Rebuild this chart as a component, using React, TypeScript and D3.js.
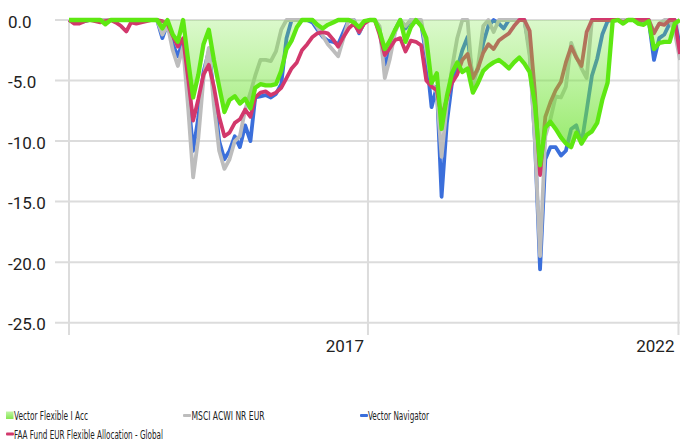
import React from 'react';
import * as d3 from 'd3';

// Monthly observations, March 2012 -> January 2022 (drawdown, %)
const START = new Date(Date.UTC(2012, 2, 10));
const N_MONTHS = 119;
const dates: Date[] = d3.range(N_MONTHS).map((i) => d3.utcMonth.offset(START, i));

const flexible: number[] = [
  0, 0, 0, 0, 0, 0, 0, -0.35, 0, 0,
  0, 0, 0, 0, 0, 0, 0, 0, -0.7, 0,
  -1.2, -1.8, 0, -3.5, -6.4, -4.5, -2.0, -0.8, -3.3, -5.5,
  -7.6, -6.6, -6.3, -6.9, -6.5, -7.3, -5.6, -5.3, -5.4, -5.4,
  -5.3, -4.2, -2.4, -1.7, -0.6, 0, 0, 0, -0.4, -0.7,
  -0.4, -0.2, 0, 0, 0, -0.2, -0.6, -0.1, 0, 0,
  -0.9, -2.4, -1.7, -0.8, 0, -1.8, -0.6, 0, -0.5, -1.5,
  -5.2, -4.4, -9.0, -6.3, -4.4, -3.5, -4.3, -4.0, -6.0, -5.2,
  -4.2, -3.8, -3.5, -3.3, -3.6, -4.0, -3.5, -3.1, -3.6, -4.3,
  -7.0, -12.0, -8.9, -8.4, -9.0, -9.7, -10.2, -10.5, -9.3, -10.2,
  -9.5, -9.2, -8.5, -6.6, -5.2, -0.1, 0, -0.3, 0, 0,
  -0.3, -0.4, -0.1, -2.4, -1.9, -1.8, -1.8, -0.3, 0,
];

const msci: number[] = [
  0, -0.2, -0.1, 0, 0, 0, 0, 0, 0, 0,
  0, 0, 0, 0, 0, 0, 0, 0, -1.2, -0.4,
  -2.5, -3.8, -2.2, -7.5, -13.0, -9.7, -4.8, -2.3, -7.0, -10.8,
  -12.3, -11.5, -10.0, -9.6, -7.4, -6.0, -4.6, -3.3, -3.3, -3.4,
  -2.6, -0.8, 0, 0, 0, 0, 0, 0, -0.6, -1.3,
  -2.0, -2.5, -3.0, -1.5, 0, 0, -1.0, -0.2, 0, 0,
  -0.5, -4.8, -3.2, -1.0, 0, -0.5, 0, 0, 0, -2.5,
  -5.2, -6.0, -11.3, -7.0, -4.0, -1.5, 0, 0, -5.5, -3.8,
  -0.5, 0, -1.0, 0, 0, 0, 0, 0, 0, -3.0,
  -10.0, -19.5, -9.6, -8.2, -6.3, -6.4, -5.5, -1.9, -3.0, -4.0,
  -4.8, 0, 0, 0, 0, 0, 0, 0, 0, 0,
  0, 0, 0, -1.0, -0.3, 0, 0, -1.0, -3.3,
];

const navigator: number[] = [
  0, -0.2, -0.2, -0.1, 0, 0, 0, 0, 0, 0,
  0, 0, 0, 0, 0, 0, 0, 0, -1.5, -0.3,
  -2.0, -3.0, -1.7, -6.5, -10.8, -8.0, -4.3, -2.6, -6.0, -10.0,
  -11.5, -10.8, -9.6, -10.5, -8.7, -10.0, -6.4, -6.3, -6.2, -6.4,
  -6.1, -5.3, -1.5, 0, 0, 0, 0, -0.2, -0.8, -1.4,
  -1.7, -1.8, -2.0, -1.0, 0, 0, -1.1, -0.2, 0, 0,
  -0.7, -3.7, -2.7, -0.8, 0, -0.7, 0, 0, -0.3, -3.0,
  -7.2, -5.5, -14.6, -8.5, -5.2, -4.0, -2.5, -1.4, -5.0, -4.0,
  -1.9, -0.5, 0, -0.3, -0.7, 0, 0, 0, 0, -2.5,
  -10.0, -20.6, -11.5, -10.5, -10.5, -11.2, -10.8, -9.0, -8.7, -10.2,
  -7.5, -4.6, -3.2, -1.2, -0.1, 0, 0, 0, 0, 0,
  -0.2, 0, 0, -3.3, -1.5, -1.2, -0.3, 0, -2.2,
];

const faa: number[] = [
  0, -0.3, -0.3, -0.1, 0, -0.1, -0.2, -0.1, 0, -0.2,
  -0.5, -0.95, -0.2, -0.3, -0.2, -0.1, 0, 0, -0.1, -0.3,
  -1.3, -2.2, -1.5, -5.0, -8.3, -6.5, -4.5, -3.7, -5.5, -8.0,
  -9.6, -9.3, -8.5, -8.2, -7.4, -8.0, -6.4, -6.0, -5.9, -6.2,
  -6.0, -5.6, -4.8, -4.0, -3.5, -2.5, -2.0, -1.4, -1.1, -1.0,
  -1.1, -1.6, -2.2, -1.4, -0.7, -0.3, -1.0, -0.3, 0, 0,
  -1.2, -2.9, -2.3, -1.65, -1.5, -2.6, -1.7, -1.8, -2.1, -5.0,
  -5.5, -5.8, -8.0, -6.5, -5.2, -4.5, -3.3, -2.8, -4.8, -4.0,
  -2.7, -2.0, -2.4, -1.7, -1.4, -1.1, -0.5, 0, 0, -0.9,
  -6.0, -12.8, -8.0, -6.8, -5.8, -5.1, -3.5, -2.2, -3.1, -3.8,
  -1.0, 0, 0, 0, 0, 0, 0, -0.2, 0, 0,
  0, 0, 0, -1.1, -0.3, -0.4, 0, 0, -2.8,
];

const yTicks: number[] = [0, -5, -10, -15, -20, -25];
const xTickYears: number[] = [2017, 2022];
const seriesNames: string[] = [
  'Vector Flexible I Acc',
  'MSCI ACWI NR EUR',
  'Vector Navigator',
  'FAA Fund EUR Flexible Allocation - Global',
];

const GREEN = '#5ee812';
const GRAY = '#bdbdbd';
const BLUE = '#3b6fdb';
const RED = '#d2386c';
const GRID = '#dcdcdc';
const TEXT = '#222';
const AXIS_FONT = 'Roboto, "Liberation Sans", sans-serif';
const LEGEND_FONT = '"Liberation Sans Narrow", "DejaVu Sans Condensed", "Arial Narrow", sans-serif';

export default function App() {
  const W = 680;
  const H = 442;
  const left = 69;
  const right = 680;
  const top = 20;
  const bottom = 322.7;

  const x = d3.scaleUtc().domain([dates[0], dates[dates.length - 1]]).range([left, right]);
  const y = d3.scaleLinear().domain([0, -25]).range([top, bottom]);

  const lineGen = d3
    .line<number>()
    .x((_, i) => x(dates[i]))
    .y((d) => y(d));
  const areaGen = d3
    .area<number>()
    .x((_, i) => x(dates[i]))
    .y0(y(0))
    .y1((d) => y(d));

  const yearX = xTickYears.map((yr) => x(new Date(Date.UTC(yr, 0, 1))));
  const tickBottom = 335;

  const legend = [
    { name: seriesNames[0], kind: 'area', color: GREEN, sx: 6, tx: 14, ty: 420, w: 74 },
    { name: seriesNames[1], kind: 'line', color: GRAY, sx: 183, tx: 191.5, ty: 420, w: 73 },
    { name: seriesNames[2], kind: 'line', color: BLUE, sx: 360, tx: 368, ty: 420, w: 61 },
    { name: seriesNames[3], kind: 'line', color: RED, sx: 6, tx: 14, ty: 438.5, w: 149 },
  ];

  return (
    <svg
      width={W}
      height={H}
      style={{ position: 'absolute', left: 0, top: 0, background: '#fff' }}
    >
      <defs>
        <linearGradient id="flexFill" gradientUnits="userSpaceOnUse" x1="0" x2="0" y1={y(0)} y2={y(-12.5)}>
          <stop offset="0" stopColor="#74e63a" stopOpacity={0.26} />
          <stop offset="1" stopColor="#6fe232" stopOpacity={0.8} />
        </linearGradient>
        <linearGradient id="legendFill" x1="0" x2="0" y1="0" y2="1">
          <stop offset="0" stopColor="#74e63a" stopOpacity={0.45} />
          <stop offset="1" stopColor="#6fe232" stopOpacity={0.85} />
        </linearGradient>
      </defs>

      {/* horizontal grid + y labels */}
      {yTicks.map((t) => (
        <g key={t}>
          <line x1={55} x2={right} y1={y(t)} y2={y(t)} stroke={GRID} strokeWidth={2} />
          <text x={8} y={y(t) + 7.5} fontFamily={AXIS_FONT} fontSize={17} fill={TEXT}>
            {t.toFixed(1)}
          </text>
        </g>
      ))}

      {/* vertical axis + year gridlines */}
      <line x1={left} x2={left} y1={top} y2={tickBottom} stroke={GRID} strokeWidth={2} />
      {xTickYears.map((yr, k) => (
        <g key={yr}>
          <line x1={yearX[k]} x2={yearX[k]} y1={top} y2={tickBottom} stroke={GRID} strokeWidth={2} />
          <text
            x={yearX[k] - 4}
            y={352}
            textAnchor="end"
            fontFamily={AXIS_FONT}
            fontSize={17}
            fill={TEXT}
          >
            {yr}
          </text>
        </g>
      ))}

      {/* series lines */}
      <path d={lineGen(navigator) || ''} fill="none" stroke={BLUE} strokeWidth={3.8} strokeLinejoin="round" />
      <path d={lineGen(msci) || ''} fill="none" stroke={GRAY} strokeWidth={3.8} strokeLinejoin="round" />
      <path d={lineGen(faa) || ''} fill="none" stroke={RED} strokeWidth={3.8} strokeLinejoin="round" />
      <path d={areaGen(flexible) || ''} fill="url(#flexFill)" stroke="none" />
      <path d={lineGen(flexible) || ''} fill="none" stroke={GREEN} strokeWidth={4.3} strokeLinejoin="round" />

      {/* legend */}
      {legend.map((l) => (
        <g key={l.name}>
          {l.kind === 'area' ? (
            <rect x={l.sx} y={l.ty - 8.5} width={7.5} height={7.5} fill="url(#legendFill)" />
          ) : (
            <rect x={l.sx} y={l.ty - 6} width={8} height={3} rx={1} fill={l.color} />
          )}
          <text
            x={l.tx}
            y={l.ty}
            fontFamily={LEGEND_FONT}
            fontSize={12.5}
            fill={TEXT}
            textLength={l.w}
            lengthAdjust="spacingAndGlyphs"
          >
            {l.name}
          </text>
        </g>
      ))}
    </svg>
  );
}
